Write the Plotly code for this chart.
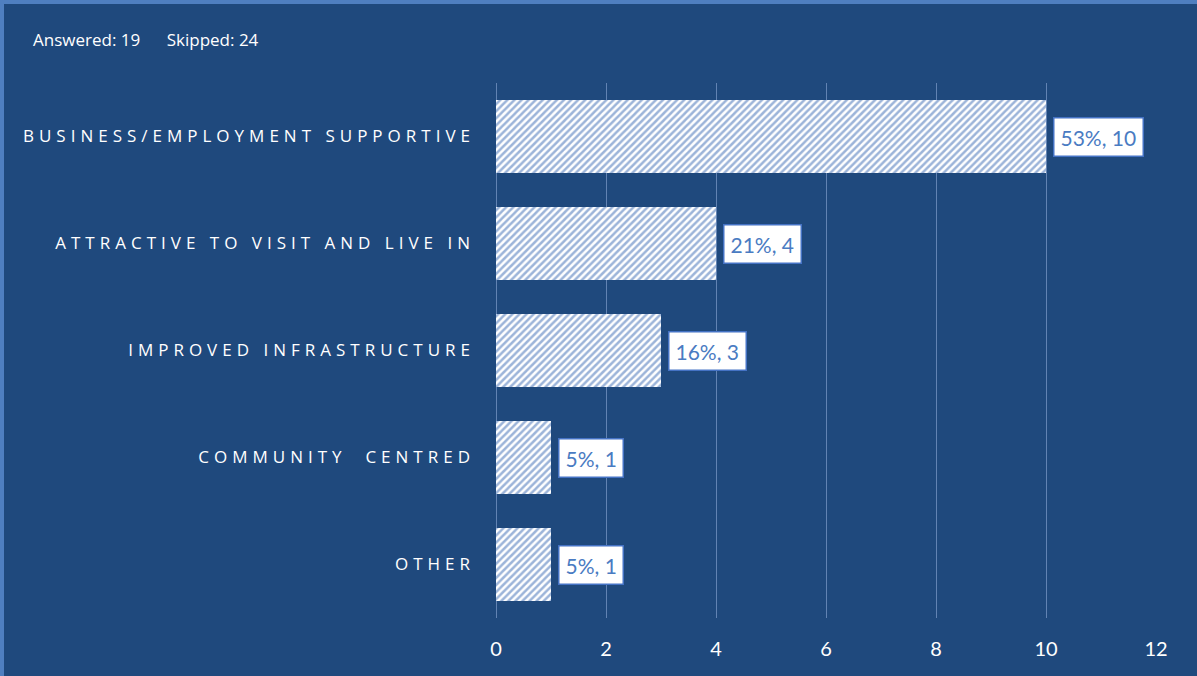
import plotly.graph_objects as go

# Survey responses
categories = [
    "BUSINESS/EMPLOYMENT SUPPORTIVE",
    "ATTRACTIVE TO VISIT AND LIVE IN",
    "IMPROVED INFRASTRUCTURE",
    "COMMUNITY  CENTRED",
    "OTHER",
]
counts = [10, 4, 3, 1, 1]
percents = [53, 21, 16, 5, 5]
answered = 19
skipped = 24
x_ticks = [0, 2, 4, 6, 8, 10, 12]

BG = "#1F497D"
ACCENT = "#4472C4"
GRID = "#6283B3"

W, H = 1197, 676
L, R, T, B = 496, 41, 83, 58
pw, ph = W - L - R, H - T - B

fig = go.Figure()
fig.add_trace(go.Bar(
    x=counts,
    y=categories,
    orientation="h",
    marker=dict(
        color="white",
        line=dict(width=0),
        pattern=dict(shape="/", fgcolor="#3A69B3", bgcolor="white", size=5, solidity=0.5),
    ),
    hoverinfo="skip",
))

# header line
fig.add_annotation(
    x=(31 - L) / pw, y=(H - B - 40) / ph, xref="paper", yref="paper",
    text=f"Answered: {answered}      Skipped: {skipped}",
    showarrow=False, xanchor="left", yanchor="middle",
    font=dict(family="Open Sans, sans-serif", size=17, color="white"),
)

# value labels: "pct%, count"
for c, v, p in zip(categories, counts, percents):
    fig.add_annotation(
        x=v, y=c, xref="x", yref="y",
        text=f"{p}%, {v}",
        showarrow=False, xanchor="left", yanchor="middle", xshift=7,
        font=dict(family="Lato, Carlito, sans-serif", size=21, color="#4A7BC2"),
        bgcolor="white", bordercolor=ACCENT, borderwidth=1.5, borderpad=6,
    )

# frame edge along the top and left
fig.add_shape(
    type="rect", xref="paper", yref="paper",
    x0=(2 - L) / pw, x1=(W + 10 - L) / pw,
    y0=(H - B - (H + 10)) / ph, y1=(H - B - 2) / ph,
    line=dict(color="#4F7FC0", width=4), fillcolor="rgba(0,0,0,0)", layer="below",
)

fig.update_layout(
    width=W, height=H,
    margin=dict(l=L, r=R, t=T, b=B),
    paper_bgcolor=BG, plot_bgcolor=BG,
    bargap=0.32,
    showlegend=False,
    xaxis=dict(
        range=[0, 12], tickvals=x_ticks, showgrid=True, gridcolor=GRID, gridwidth=1,
        zeroline=True, zerolinecolor=GRID, zerolinewidth=1, showline=False,
        ticks="", ticklabelstandoff=17,
        tickfont=dict(family="Lato, Carlito, sans-serif", size=20, color="white"),
        fixedrange=True,
    ),
    yaxis=dict(
        autorange="reversed", showgrid=False, zeroline=False, showline=False,
        ticks="", ticklabelstandoff=20,
        tickfont=dict(family="Open Sans, sans-serif", size=17, color="white"),
        fixedrange=True,
    ),
)

# letter spacing for the category labels
post = """
var css = document.createElement('style');
css.textContent = '.ytick text { letter-spacing: 5px !important; }';
document.head.appendChild(css);
"""

fig.write_html("out.html", post_script=post, config={"displayModeBar": False, "responsive": False})
